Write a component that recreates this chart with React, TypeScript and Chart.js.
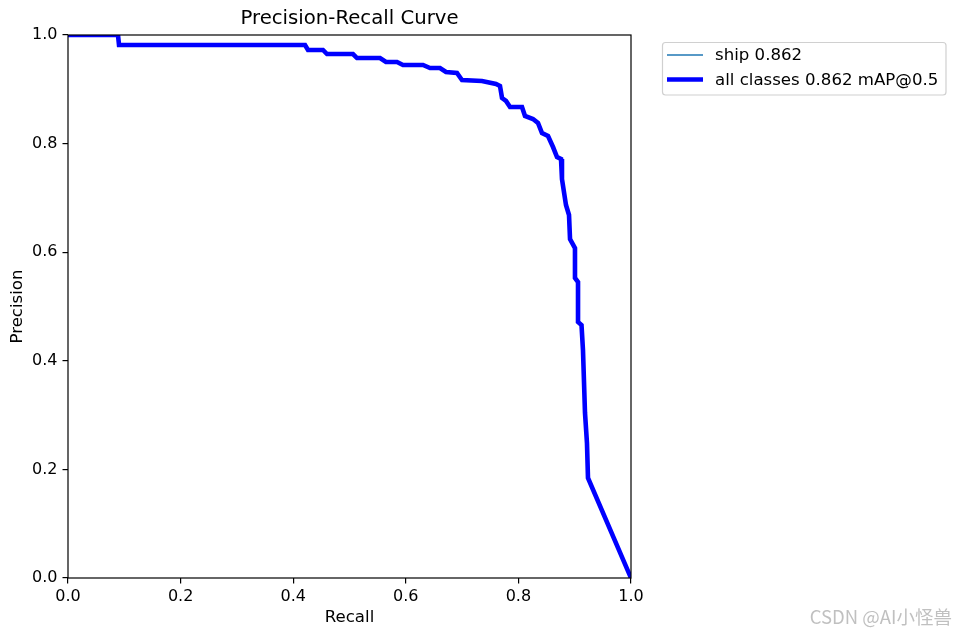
import React, { useEffect, useRef } from "react";
import { Chart, registerables } from "chart.js";

Chart.register(...registerables);

const recall = [
  0, 0.0888, 0.0906, 0.421, 0.4263, 0.4529, 0.46, 0.5062, 0.5133, 0.5542,
  0.5648, 0.5844, 0.595, 0.6306, 0.643, 0.6607, 0.6714, 0.6909, 0.6998, 0.7353,
  0.7602, 0.7673, 0.7709, 0.778, 0.7851, 0.8064, 0.8117, 0.8259, 0.8348, 0.8419,
  0.8526, 0.8615, 0.8686, 0.8757, 0.8774, 0.8845, 0.8899, 0.8917, 0.9005, 0.9005,
  0.9059, 0.9059, 0.9121, 0.9147, 0.9183, 0.9218, 0.9236, 1.0,
];
const precision = [
  1.0, 1.0, 0.9816, 0.9816, 0.9724, 0.9724, 0.965, 0.965, 0.9576, 0.9576,
  0.9503, 0.9503, 0.9448, 0.9448, 0.9392, 0.9392, 0.9319, 0.93, 0.9171, 0.9153,
  0.9098, 0.9061, 0.884, 0.8785, 0.8674, 0.8674, 0.8508, 0.8453, 0.8379, 0.8195,
  0.814, 0.7937, 0.7753, 0.7716, 0.7348, 0.6869, 0.6685, 0.6243, 0.6077, 0.5525,
  0.5451, 0.4715, 0.4659, 0.4199, 0.3039, 0.2486, 0.1842, 0.0,
];

const seriesLabels = ["ship 0.862", "all classes 0.862 mAP@0.5"];
const titleText = "Precision-Recall Curve";
const xTitle = "Recall";
const yTitle = "Precision";
const watermark = "CSDN @AI小怪兽";

const FONT = "'DejaVu Sans', sans-serif";

export default function App() {
  const ref = useRef<HTMLCanvasElement | null>(null);

  useEffect(() => {
    document.body.style.margin = "0";
    const canvas = ref.current;
    if (!canvas) return;
    const pts = recall.map((r, i) => ({ x: r, y: precision[i] }));

    const overlay = {
      id: "overlay",
      afterDatasetsDraw(chart: any) {
        const { ctx, chartArea } = chart;
        ctx.save();
        ctx.strokeStyle = "#000";
        ctx.lineWidth = 1.2;
        ctx.strokeRect(
          chartArea.left,
          chartArea.top,
          chartArea.right - chartArea.left,
          chartArea.bottom - chartArea.top
        );
        ctx.restore();
      },
      afterDraw(chart: any) {
        const { ctx, chartArea } = chart;
        ctx.save();
        // title
        ctx.fillStyle = "#000";
        ctx.font = `19.7px ${FONT}`;
        ctx.textAlign = "center";
        ctx.textBaseline = "middle";
        ctx.fillText(titleText, (chartArea.left + chartArea.right) / 2, 18.5);

        // legend
        const bx = 662.5, by = 42.5, bw = 283.5, bh = 52.5, r = 3;
        ctx.beginPath();
        ctx.moveTo(bx + r, by);
        ctx.lineTo(bx + bw - r, by);
        ctx.quadraticCurveTo(bx + bw, by, bx + bw, by + r);
        ctx.lineTo(bx + bw, by + bh - r);
        ctx.quadraticCurveTo(bx + bw, by + bh, bx + bw - r, by + bh);
        ctx.lineTo(bx + r, by + bh);
        ctx.quadraticCurveTo(bx, by + bh, bx, by + bh - r);
        ctx.lineTo(bx, by + r);
        ctx.quadraticCurveTo(bx, by, bx + r, by);
        ctx.closePath();
        ctx.fillStyle = "rgba(255,255,255,0.8)";
        ctx.fill();
        ctx.strokeStyle = "#d0d0d0";
        ctx.lineWidth = 1.2;
        ctx.stroke();

        ctx.lineCap = "butt";
        ctx.strokeStyle = "#1f77b4";
        ctx.lineWidth = 1.55;
        ctx.beginPath();
        ctx.moveTo(667, 55);
        ctx.lineTo(703, 55);
        ctx.stroke();
        ctx.strokeStyle = "#0000ff";
        ctx.lineWidth = 4.6;
        ctx.beginPath();
        ctx.moveTo(667, 79.5);
        ctx.lineTo(703, 79.5);
        ctx.stroke();

        ctx.fillStyle = "#000";
        ctx.font = `16.6px ${FONT}`;
        ctx.textAlign = "left";
        ctx.textBaseline = "middle";
        ctx.fillText(seriesLabels[0], 715, 55.5);
        ctx.fillText(seriesLabels[1], 715, 80.5);

        // watermark
        ctx.fillStyle = "rgba(150,150,150,0.6)";
        ctx.font = `18.5px 'Noto Sans CJK SC', sans-serif`;
        ctx.textAlign = "right";
        ctx.fillText(watermark, 952, 617);
        ctx.restore();
      },
    };

    const chart = new Chart(canvas, {
      type: "scatter",
      data: {
        datasets: [
          {
            label: seriesLabels[1],
            data: pts,
            showLine: true,
            borderColor: "#0000ff",
            backgroundColor: "#0000ff",
            borderWidth: 4.6,
            pointRadius: 0,
            tension: 0,
            clip: 0,
            order: 0,
          },
          {
            label: seriesLabels[0],
            data: pts,
            showLine: true,
            borderColor: "#1f77b4",
            backgroundColor: "#1f77b4",
            borderWidth: 1.55,
            pointRadius: 0,
            tension: 0,
            clip: 0,
            order: 1,
          },
        ],
      },
      options: {
        responsive: false,
        animation: false,
        devicePixelRatio: 1,
        layout: { padding: { top: 35, right: 326, left: 0, bottom: 0 } },
        plugins: {
          legend: { display: false },
          title: { display: false },
          tooltip: { enabled: false },
        },
        scales: {
          x: {
            type: "linear",
            min: 0,
            max: 1,
            afterFit: (s: any) => {
              s.height = 57;
            },
            border: { display: false },
            grid: {
              display: true,
              drawOnChartArea: false,
              drawTicks: true,
              tickLength: 5.5,
              color: "#000",
              lineWidth: 1.2,
            },
            ticks: {
              stepSize: 0.2,
              padding: 3.5,
              color: "#000",
              font: { family: FONT, size: 16 },
              maxRotation: 0,
              callback: (v: any) => Number(v).toFixed(1),
            },
            title: {
              display: true,
              text: xTitle,
              color: "#000",
              font: { family: FONT, size: 16.6 },
              padding: { top: 0, bottom: 7 },
            },
          },
          y: {
            type: "linear",
            min: 0,
            max: 1,
            afterFit: (s: any) => {
              s.width = 68;
            },
            border: { display: false },
            grid: {
              display: true,
              drawOnChartArea: false,
              drawTicks: true,
              tickLength: 5.5,
              color: "#000",
              lineWidth: 1.2,
            },
            ticks: {
              stepSize: 0.2,
              padding: 5,
              color: "#000",
              font: { family: FONT, size: 16 },
              callback: (v: any) => Number(v).toFixed(1),
            },
            title: {
              display: true,
              text: yTitle,
              color: "#000",
              font: { family: FONT, size: 16.6 },
              padding: { top: 8, bottom: 0 },
            },
          },
        },
      },
      plugins: [overlay],
    } as any);

    return () => {
      chart.destroy();
    };
  }, []);

  return (
    <div style={{ position: "absolute", left: 0, top: 0, width: 957, height: 635 }}>
      <canvas ref={ref} width={957} height={635} style={{ width: 957, height: 635 }} />
    </div>
  );
}
